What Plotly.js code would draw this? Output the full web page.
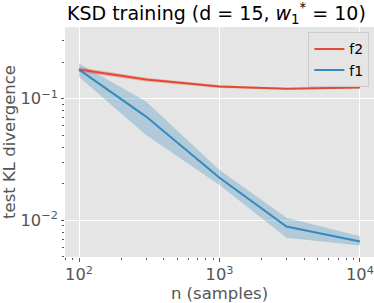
<!DOCTYPE html>
<html>
<head>
<meta charset="utf-8">
<script src="https://cdn.plot.ly/plotly-3.0.1.min.js"></script>
<style>html,body{margin:0;padding:0;background:#fff;}#chart{width:374px;height:303px;}</style>
</head>
<body>
<div id="chart"></div>
<script>
const nSamples = [100, 300, 1000, 3000, 10000];
const f2Mean  = [0.174, 0.144, 0.126, 0.121, 0.124];
const f2Lower = [0.166, 0.139, 0.123, 0.119, 0.122];
const f2Upper = [0.182, 0.149, 0.129, 0.123, 0.126];
const f1Mean  = [0.174, 0.0714, 0.0224, 0.0089, 0.0067];
const f1Lower = [0.151, 0.0504, 0.0195, 0.0072, 0.0062];
const f1Upper = [0.195, 0.095, 0.0259, 0.0105, 0.0074];

const RED = '#E24A33', BLUE = '#348ABD';

function band(lo, hi, color) {
  return {
    x: nSamples.concat(nSamples.slice().reverse()),
    y: hi.concat(lo.slice().reverse()),
    type: 'scatter', mode: 'lines', fill: 'toself',
    fillcolor: color, line: {width: 0, color: 'rgba(0,0,0,0)'},
    hoverinfo: 'skip', showlegend: false
  };
}

const traces = [
  band(f1Lower, f1Upper, 'rgba(52,138,189,0.3)'),
  band(f2Lower, f2Upper, 'rgba(226,74,51,0.3)'),
  {x: nSamples, y: f2Mean, type: 'scatter', mode: 'lines', name: 'f2', line: {color: RED, width: 2}},
  {x: nSamples, y: f1Mean, type: 'scatter', mode: 'lines', name: 'f1', line: {color: BLUE, width: 2}}
];

const axisCommon = {
  type: 'log', tickmode: 'linear', tick0: 0, dtick: 1,
  exponentformat: 'power', showexponent: 'all',
  showgrid: true, gridcolor: '#FFFFFF', gridwidth: 1,
  zeroline: false, showline: false,
  ticks: 'outside', ticklen: 3.5, tickwidth: 1, tickcolor: '#555555',
  tickfont: {family: 'DejaVu Sans', size: 13, color: '#555555'},
  minor: {dtick: 'D1', ticks: 'outside', ticklen: 2, tickwidth: 1, tickcolor: '#555555', showgrid: false}
};

const layout = {
  width: 374, height: 303,
  margin: {l: 65, r: 0, t: 26.7, b: 46.3},
  paper_bgcolor: '#FFFFFF', plot_bgcolor: '#E5E5E5',
  font: {family: 'DejaVu Sans', color: '#555555'},
  title: {
    text: 'KSD training (d = 15, <i>w</i><sub>1</sub><sup>*</sup> = 10)',
    font: {family: 'DejaVu Sans', size: 19, color: '#000000'},
    x: 0.49, xref: 'paper', xanchor: 'center',
    y: 1 - 13 / 303, yref: 'container', yanchor: 'middle'
  },
  xaxis: Object.assign({}, axisCommon, {
    range: [1.9, 4.1],
    title: {text: 'n (samples)', font: {family: 'DejaVu Sans', size: 16.5, color: '#555555'}, standoff: 6}
  }),
  yaxis: Object.assign({}, axisCommon, {
    range: [-2.302, -0.409],
    title: {text: 'test KL divergence', font: {family: 'DejaVu Sans', size: 16.5, color: '#555555'}, standoff: 6}
  }),
  legend: {
    x: 0.985, y: 0.977, xanchor: 'right', yanchor: 'top',
    bgcolor: '#E5E5E5', bordercolor: '#CCCCCC', borderwidth: 1,
    itemwidth: 30,
    font: {family: 'DejaVu Sans', size: 14, color: '#000000'}
  },
  showlegend: true
};

Plotly.newPlot('chart', traces, layout, {displayModeBar: false, staticPlot: true});
</script>
</body>
</html>
